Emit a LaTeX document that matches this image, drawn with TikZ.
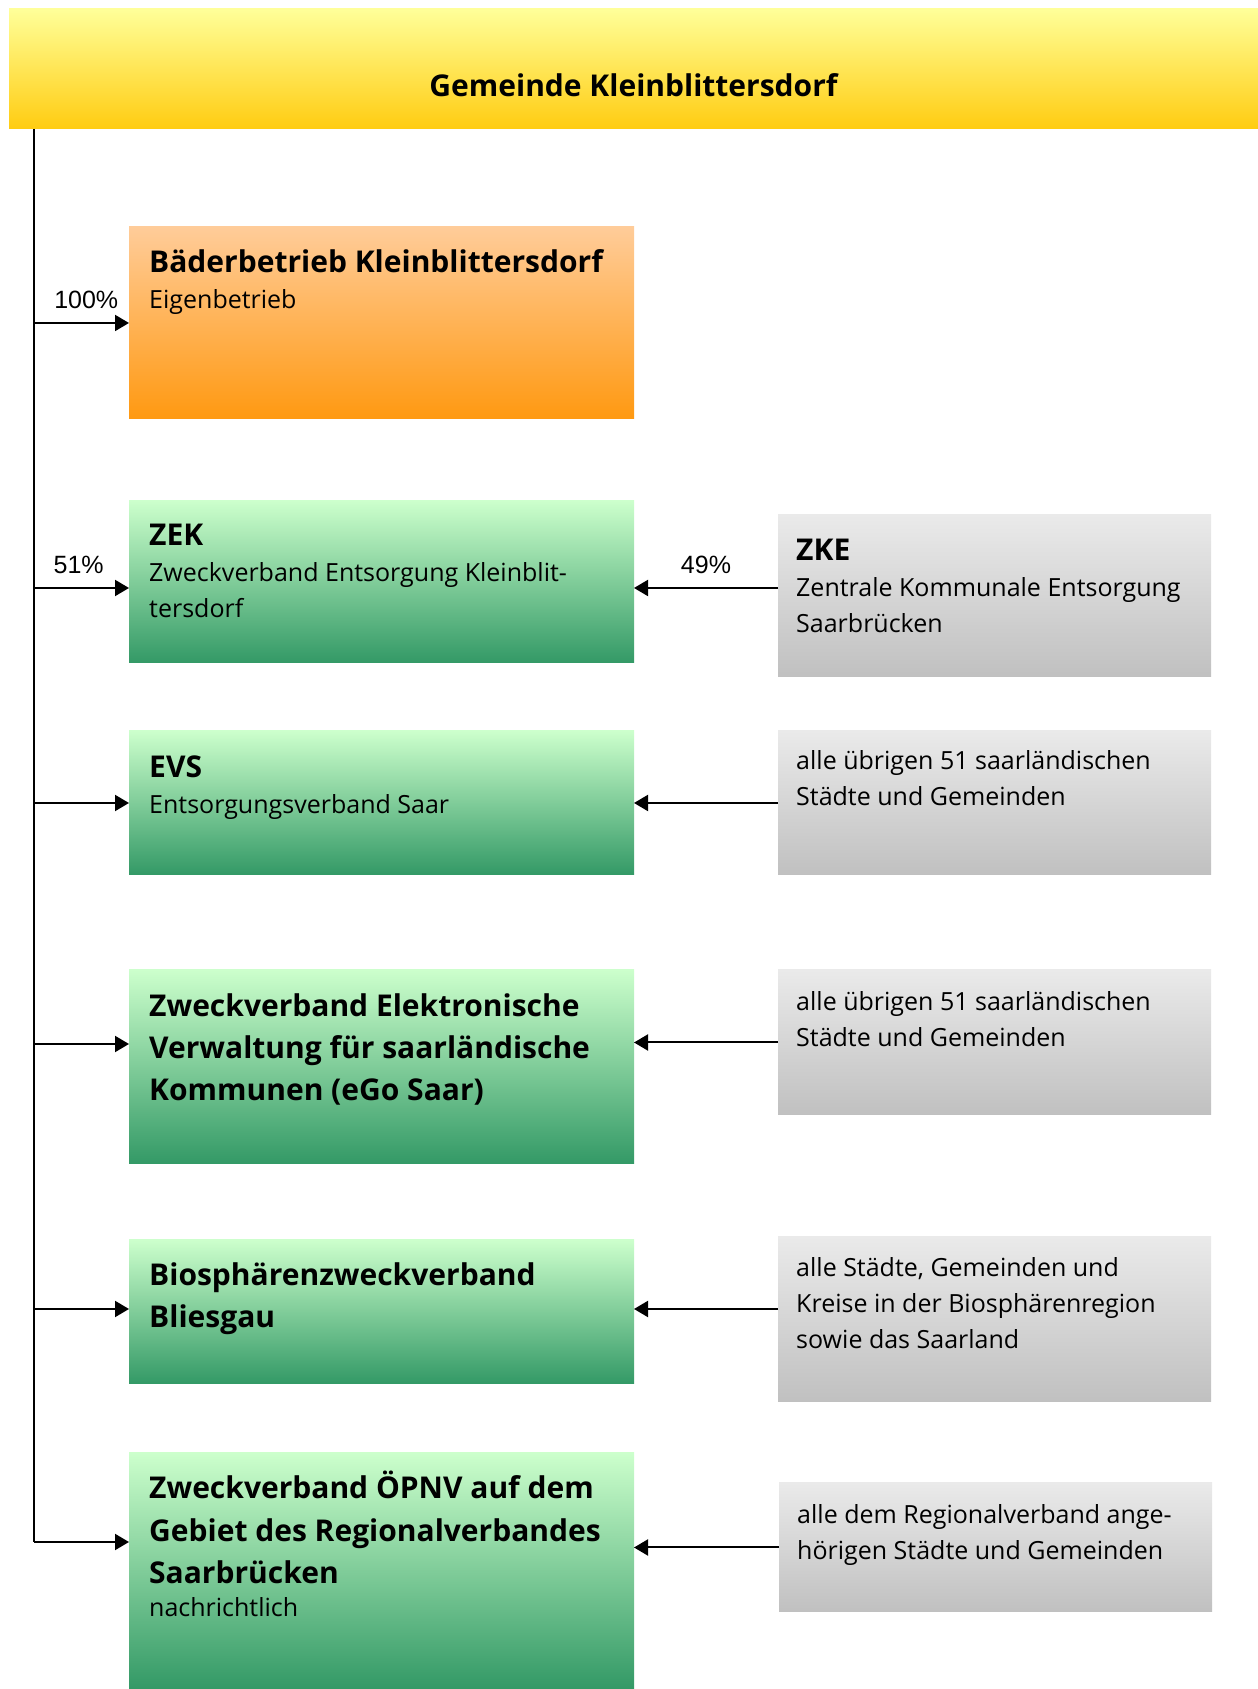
\documentclass[tikz,border=0pt]{standalone}
\usepackage{fontspec}
\setmainfont{Open Sans}
\newfontfamily\pctfont{Liberation Sans}
\usepackage{tikz}
\usetikzlibrary{arrows.meta, positioning}
\definecolor{headtop}{RGB}{255,255,153}
\definecolor{headbot}{RGB}{255,204,17}
\definecolor{orangetop}{RGB}{255,204,153}
\definecolor{orangebot}{RGB}{255,153,17}
\definecolor{greentop}{RGB}{204,255,204}
\definecolor{greenbot}{RGB}{51,153,102}
\definecolor{graytop}{RGB}{234,234,234}
\definecolor{graybot}{RGB}{192,192,192}
\tikzstyle{head} = [rectangle, inner sep=0pt, outer sep=0pt, minimum width=1249pt, minimum height=120pt, top color=headtop, bottom color=headbot]
\tikzstyle{ownbox} = [rectangle, inner sep=0pt, outer sep=0pt, minimum width=505pt, top color=greentop, bottom color=greenbot]
\tikzstyle{bathbox} = [ownbox, top color=orangetop, bottom color=orangebot]
\tikzstyle{partbox} = [rectangle, inner sep=0pt, outer sep=0pt, minimum width=433pt, top color=graytop, bottom color=graybot]
% base west = Grundlinie der letzten Zeile
\tikzstyle{txt} = [anchor=base west, inner sep=0pt, align=left, font=\fontsize{25}{36}\selectfont]
\tikzstyle{pct} = [inner sep=3pt, font=\pctfont\fontsize{25}{30}\selectfont]
\tikzstyle{arrow} = [line width=2pt,-{Triangle[length=14pt,width=16pt]}]
\newcommand{\ttl}[1]{{\fontsize{30}{36}\selectfont\bfseries #1}}

\begin{document}
\begin{tikzpicture}[x=1pt, y=1pt]
        \useasboundingbox (0,0) rectangle (1258,1689);
        \node (gem) [head] at (633.5,1620) {};
        \node (gemt) [anchor=base, font=\fontsize{30}{36}\selectfont\bfseries] at ([yshift=32pt]gem.south) {Gemeinde Kleinblittersdorf};

        % eigene Beteiligungen
        \node (bad) [bathbox, minimum height=192pt] at (381.5,1366) {};
        \node (zek) [ownbox, minimum height=162pt, below=82pt of bad] {};
        \node (evs) [ownbox, minimum height=144pt, below=68pt of zek] {};
        \node (ego) [ownbox, minimum height=194pt, below=95pt of evs] {};
        \node (bio) [ownbox, minimum height=144pt, below=76pt of ego] {};
        \node (opnv) [ownbox, minimum height=236pt, below=69pt of bio] {};

        % weitere Mitglieder
        \node (zke) [partbox, minimum height=162pt, right=144pt of zek, yshift=-14pt] {};
        \node (evsp) [partbox, minimum height=144pt, right=144pt of evs] {};
        \node (egop) [partbox, minimum height=145pt, right=144pt of ego, yshift=24.5pt] {};
        \node (biop) [partbox, minimum height=165pt, right=144pt of bio, yshift=-7.5pt] {};
        \node (opnvp) [partbox, minimum height=129pt, right=145pt of opnv, yshift=23.5pt] {};

        \node (badt) [txt] at ([shift={(20pt,-82pt)}]bad.north west) {\ttl{Bäderbetrieb Kleinblittersdorf}\\Eigenbetrieb};
        \node (zekt) [txt] at ([shift={(20pt,-117pt)}]zek.north west) {\ttl{ZEK}\\Zweckverband Entsorgung Kleinblit-\\tersdorf};
        \node (evst) [txt] at ([shift={(20pt,-83pt)}]evs.north west) {\ttl{EVS}\\Entsorgungsverband Saar};
        \node (egot) [txt] at ([shift={(20pt,-131pt)}]ego.north west) {\ttl{Zweckverband Elektronische}\\[6pt]\ttl{Verwaltung für saarländische}\\[6pt]\ttl{Kommunen (eGo Saar)}};
        \node (biot) [txt] at ([shift={(20pt,-88pt)}]bio.north west) {\ttl{Biosphärenzweckverband}\\[6pt]\ttl{Bliesgau}};
        \node (opnvt) [txt] at ([shift={(20pt,-164pt)}]opnv.north west) {\ttl{Zweckverband ÖPNV auf dem}\\[7pt]\ttl{Gebiet des Regionalverbandes}\\[6pt]\ttl{Saarbrücken}\\[-3pt]nachrichtlich};

        \node (zket) [txt] at ([shift={(18pt,-118pt)}]zke.north west) {\ttl{ZKE}\\Zentrale Kommunale Entsorgung\\Saarbrücken};
        \node (evspt) [txt] at ([shift={(18pt,-75pt)}]evsp.north west) {alle übrigen 51 saarländischen\\Städte und Gemeinden};
        \node (egopt) [txt] at ([shift={(18pt,-77pt)}]egop.north west) {alle übrigen 51 saarländischen\\Städte und Gemeinden};
        \node (biopt) [txt] at ([shift={(18pt,-112pt)}]biop.north west) {alle Städte, Gemeinden und\\Kreise in der Biosphärenregion\\sowie das Saarland};
        \node (opnvpt) [txt] at ([shift={(18pt,-77pt)}]opnvp.north west) {alle dem Regionalverband ange-\\hörigen Städte und Gemeinden};

        % Linie links
        \coordinate (top) at ([xshift=25pt]gem.south west);
        \coordinate (s1) at (34,1366);
        \coordinate (s2) at (34,1101);
        \coordinate (s3) at (34,886);
        \coordinate (s4) at (34,645);
        \coordinate (s5) at (34,380);
        \coordinate (s6) at (34,147);
        \draw [line width=2pt] (top) -- (s6);

        \draw [arrow] (s1) -- node[pct, above=10pt, pos=0.55] (p100) {100\%} (s1 -| bad.west);
        \draw [arrow] (s2) -- node[pct, above=10pt, pos=0.47] (p51) {51\%} (s2 -| zek.west);
        \draw [arrow] (s3) -- (s3 -| evs.west);
        \draw [arrow] (s4) -- (s4 -| ego.west);
        \draw [arrow] (s5) -- (s5 -| bio.west);
        \draw [arrow] (s6) -- (s6 -| opnv.west);

        \draw [arrow] ([yshift=8pt]zke.west) -- node[pct, above=10pt] (p49) {49\%} ([yshift=8pt]zke.west -| zek.east);
        \draw [arrow] (evsp.west) -- (evsp.west -| evs.east);
        \draw [arrow] (egop.west) -- (egop.west -| ego.east);
        \draw [arrow] ([yshift=10.5pt]biop.west) -- ([yshift=10.5pt]biop.west -| bio.east);
        \draw [arrow] (opnvp.west) -- (opnvp.west -| opnv.east);
    \end{tikzpicture}
\end{document}
